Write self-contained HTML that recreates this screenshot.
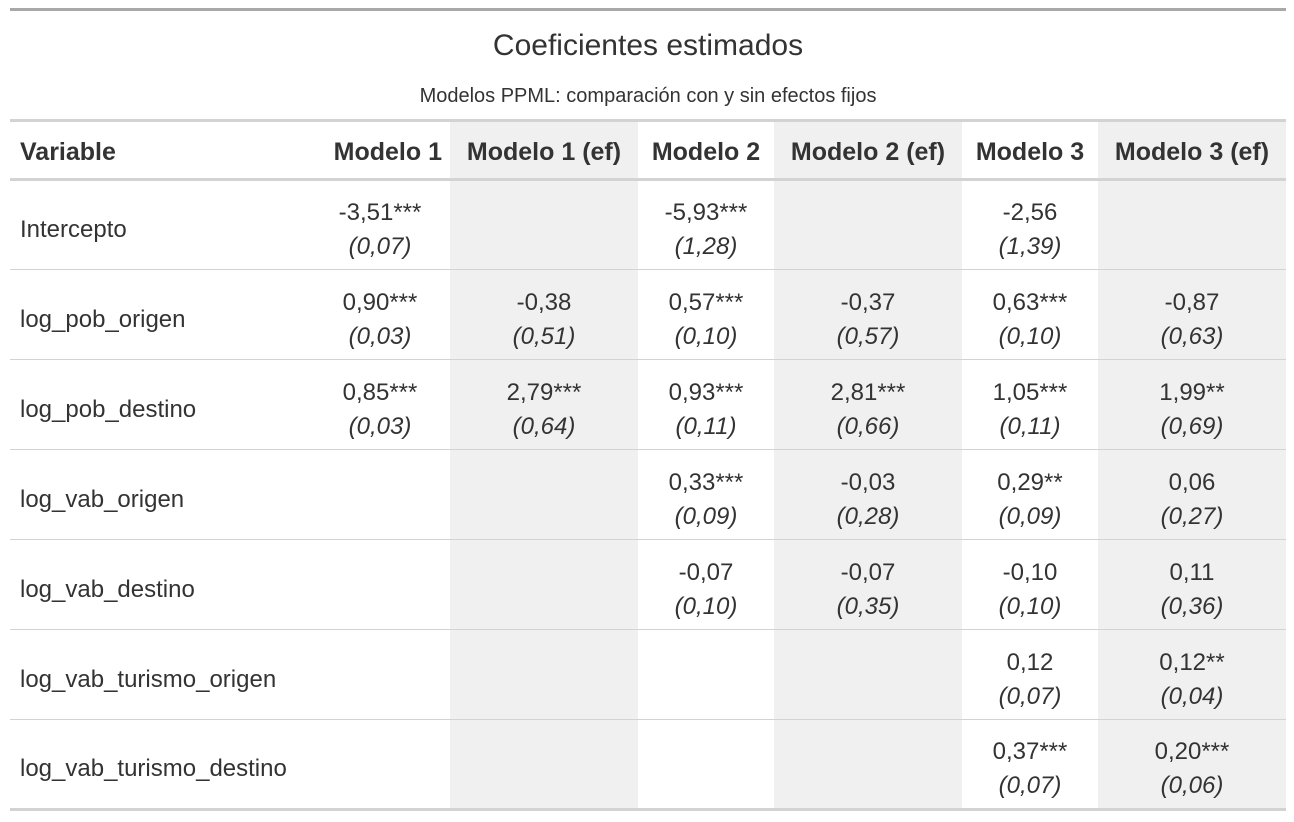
<!DOCTYPE html>
<html><head><meta charset="utf-8">
<style>
html,body{margin:0;padding:0;background:#fff;}
body{width:1294px;height:822px;position:relative;font-family:"Liberation Sans",sans-serif;color:#333;}
#wrap{position:absolute;left:10px;top:8px;width:1276px;}
.topline{height:3px;background:#a8a8a8;}
.title{height:108px;position:relative;text-align:center;}
.title h1{position:absolute;left:0;right:0;top:18px;margin:0;font-weight:normal;font-size:30px;color:#333;}
.title h2{position:absolute;left:0;right:0;top:74px;margin:0;font-weight:normal;font-size:20px;color:#333;}
table{border-collapse:collapse;table-layout:fixed;width:1276px;}
th,td{padding:0 10px;font-size:24px;}
thead tr{height:59px;}
thead th{border-top:3px solid #d3d3d3;border-bottom:3px solid #d3d3d3;font-weight:bold;color:#333;font-size:25px;white-space:nowrap;padding:4px 8px 0 8px;}
tbody tr{height:90px;}
tbody td{border-top:1px solid #d3d3d3;text-align:center;line-height:34px;padding-top:10px;padding-bottom:0;}
tbody tr:first-child td{border-top:none;}
tbody tr:last-child td{border-bottom:3px solid #d3d3d3;}
.sh{background:#f0f0f0;}
.v{text-align:left;}
.se{font-style:italic;}
</style></head><body>
<div id="wrap">
<div class="topline"></div>
<div class="title">
<h1>Coeficientes estimados</h1>
<h2>Modelos PPML: comparación con y sin efectos fijos</h2>
</div>
<table>
<colgroup><col style="width:300px"><col style="width:140px"><col style="width:188px"><col style="width:136px"><col style="width:188px"><col style="width:136px"><col style="width:188px"></colgroup>
<thead><tr>
<th style="text-align:left;padding-left:10px">Variable</th>
<th style="text-align:right">Modelo 1</th>
<th class="sh">Modelo 1 (ef)</th>
<th>Modelo 2</th>
<th class="sh">Modelo 2 (ef)</th>
<th>Modelo 3</th>
<th class="sh">Modelo 3 (ef)</th>
</tr></thead>
<tbody>
<tr>
<td class="v">Intercepto</td>
<td>-3,51***<br><span class="se">(0,07)</span></td>
<td class="sh"></td>
<td>-5,93***<br><span class="se">(1,28)</span></td>
<td class="sh"></td>
<td>-2,56<br><span class="se">(1,39)</span></td>
<td class="sh"></td>
</tr>
<tr>
<td class="v">log_pob_origen</td>
<td>0,90***<br><span class="se">(0,03)</span></td>
<td class="sh">-0,38<br><span class="se">(0,51)</span></td>
<td>0,57***<br><span class="se">(0,10)</span></td>
<td class="sh">-0,37<br><span class="se">(0,57)</span></td>
<td>0,63***<br><span class="se">(0,10)</span></td>
<td class="sh">-0,87<br><span class="se">(0,63)</span></td>
</tr>
<tr>
<td class="v">log_pob_destino</td>
<td>0,85***<br><span class="se">(0,03)</span></td>
<td class="sh">2,79***<br><span class="se">(0,64)</span></td>
<td>0,93***<br><span class="se">(0,11)</span></td>
<td class="sh">2,81***<br><span class="se">(0,66)</span></td>
<td>1,05***<br><span class="se">(0,11)</span></td>
<td class="sh">1,99**<br><span class="se">(0,69)</span></td>
</tr>
<tr>
<td class="v">log_vab_origen</td>
<td></td>
<td class="sh"></td>
<td>0,33***<br><span class="se">(0,09)</span></td>
<td class="sh">-0,03<br><span class="se">(0,28)</span></td>
<td>0,29**<br><span class="se">(0,09)</span></td>
<td class="sh">0,06<br><span class="se">(0,27)</span></td>
</tr>
<tr>
<td class="v">log_vab_destino</td>
<td></td>
<td class="sh"></td>
<td>-0,07<br><span class="se">(0,10)</span></td>
<td class="sh">-0,07<br><span class="se">(0,35)</span></td>
<td>-0,10<br><span class="se">(0,10)</span></td>
<td class="sh">0,11<br><span class="se">(0,36)</span></td>
</tr>
<tr>
<td class="v">log_vab_turismo_origen</td>
<td></td>
<td class="sh"></td>
<td></td>
<td class="sh"></td>
<td>0,12<br><span class="se">(0,07)</span></td>
<td class="sh">0,12**<br><span class="se">(0,04)</span></td>
</tr>
<tr>
<td class="v">log_vab_turismo_destino</td>
<td></td>
<td class="sh"></td>
<td></td>
<td class="sh"></td>
<td>0,37***<br><span class="se">(0,07)</span></td>
<td class="sh">0,20***<br><span class="se">(0,06)</span></td>
</tr>
</tbody>
</table>
</div>
</body></html>
